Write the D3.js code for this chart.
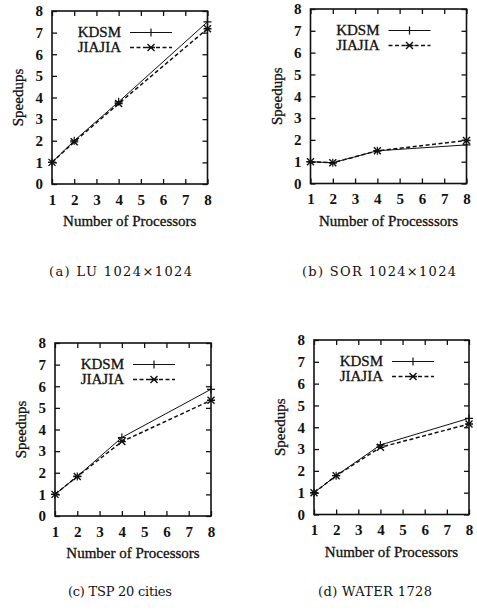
<!DOCTYPE html>
<html><head><meta charset="utf-8">
<script src="https://cdn.jsdelivr.net/npm/d3@7"></script>
<style>
html,body{margin:0;padding:0;background:#fff;}
svg{display:block;}
</style>
</head><body>
<svg id="c" width="477" height="615"></svg>
<script>
const processors = [1, 2, 4, 8];
const xTicks = [1, 2, 3, 4, 5, 6, 7, 8];
const yTicks = [0, 1, 2, 3, 4, 5, 6, 7, 8];
const seriesNames = ["KDSM", "JIAJIA"];
const luKDSM = [1, 2.0, 3.8, 7.5];
const luJIAJIA = [1, 1.95, 3.72, 7.18];
const sorKDSM = [1, 0.95, 1.5, 1.77];
const sorJIAJIA = [1, 0.95, 1.5, 1.97];
const tspKDSM = [1, 1.83, 3.63, 5.86];
const tspJIAJIA = [1, 1.83, 3.44, 5.35];
const waterKDSM = [1, 1.78, 3.19, 4.41];
const waterJIAJIA = [1, 1.78, 3.08, 4.15];
const captions = ["(a) LU 1024×1024", "(b) SOR 1024×1024", "(c) TSP 20 cities", "(d) WATER 1728"];
const xTitles = ["Number of Processors", "Number of Processsors", "Number of Processors", "Number of Processors"];
const yTitle = "Speedups";

const panels = [
  {box:[52, 207.5, 11, 184], kdsm: luKDSM, jiajia: luJIAJIA, cap:[120.5, 276, 143]},
  {box:[310.5, 466.5, 9, 183.5], kdsm: sorKDSM, jiajia: sorJIAJIA, cap:[379, 276, 154]},
  {box:[55, 211, 343, 516], kdsm: tspKDSM, jiajia: tspJIAJIA, cap:[120, 596, 104]},
  {box:[314, 469, 340, 514.5], kdsm: waterKDSM, jiajia: waterJIAJIA, cap:[375, 596, 114]}
];

const SERIF = '"Liberation Serif", "Times New Roman", serif';
const svg = d3.select("#c");
const txt = (sel) => sel.style("font-family", SERIF).style("font-size", "15px")
  .attr("fill", "#111").attr("stroke", "#111").attr("stroke-width", 0.3);

panels.forEach((p, i) => {
  const [L, R, T, B] = p.box;
  const x = d3.scaleLinear().domain([1, 8]).range([L, R]);
  const y = d3.scaleLinear().domain([0, 8]).range([B, T]);
  const g = svg.append("g");

  const axB = g.append("g").attr("transform", `translate(0,${B})`)
    .call(d3.axisBottom(x).tickValues(xTicks).tickFormat(d3.format("d")).tickSizeInner(-5).tickSizeOuter(0).tickPadding(10));
  const axT = g.append("g").attr("transform", `translate(0,${T})`)
    .call(d3.axisTop(x).tickValues(xTicks).tickFormat("").tickSizeInner(-5).tickSizeOuter(0));
  const axL = g.append("g").attr("transform", `translate(${L},0)`)
    .call(d3.axisLeft(y).tickValues(yTicks).tickFormat(d3.format("d")).tickSizeInner(-5).tickSizeOuter(0).tickPadding(9));
  const axR = g.append("g").attr("transform", `translate(${R},0)`)
    .call(d3.axisRight(y).tickValues(yTicks).tickFormat("").tickSizeInner(-5).tickSizeOuter(0));
  [axB, axT, axL, axR].forEach(a => {
    a.attr("font-family", null).attr("font-size", null);
    a.select(".domain").remove();
    a.selectAll("line").attr("stroke", "#111").attr("stroke-width", 1.3);
    a.selectAll("text").style("font-family", SERIF).style("font-size", "15px")
      .style("font-weight", "bold").attr("fill", "#111");
  });
  axB.selectAll("text").attr("dy", "0.71em");

  g.append("rect").attr("x", L).attr("y", T).attr("width", R - L).attr("height", B - T)
    .attr("fill", "none").attr("stroke", "#111").attr("stroke-width", 1.6);

  txt(g.append("text").attr("x", (L + R) / 2).attr("y", B + 42).attr("text-anchor", "middle")).text(xTitles[i]);
  txt(g.append("text").attr("transform", `translate(${L - 29},${(T + B) / 2}) rotate(-90)`)
    .attr("text-anchor", "middle")).text(yTitle);

  const line = d3.line().x((d, k) => x(processors[k])).y(d => y(d));
  g.append("path").datum(p.kdsm).attr("d", line).attr("fill", "none")
    .attr("stroke", "#111").attr("stroke-width", 1);
  g.append("path").datum(p.jiajia).attr("d", line).attr("fill", "none")
    .attr("stroke", "#111").attr("stroke-width", 1.5).attr("stroke-dasharray", "4,2.5");

  const plus = (sel, cx, cy) => {
    sel.append("path").attr("d", `M${cx - 4},${cy}H${cx + 4}M${cx},${cy - 4}V${cy + 4}`)
      .attr("stroke", "#111").attr("stroke-width", 1.2);
  };
  const cross = (sel, cx, cy) => {
    sel.append("path").attr("d", `M${cx - 3.5},${cy - 3.5}L${cx + 3.5},${cy + 3.5}M${cx - 3.5},${cy + 3.5}L${cx + 3.5},${cy - 3.5}M${cx - 4},${cy}H${cx + 4}`)
      .attr("stroke", "#111").attr("stroke-width", 1.4);
  };
  p.kdsm.forEach((v, k) => plus(g, x(processors[k]), y(v)));
  p.jiajia.forEach((v, k) => cross(g, x(processors[k]), y(v)));

  const lx = L + 69;
  const legendY = [T + 26, T + 41];
  seriesNames.forEach((n, k) => {
    txt(g.append("text").attr("x", lx).attr("y", legendY[k]).attr("text-anchor", "end")).text(n);
    const ly = legendY[k] - 4.5;
    g.append("path").attr("d", `M${L + 78},${ly}H${L + 120}`).attr("stroke", "#111")
      .attr("stroke-width", k === 0 ? 1 : 1.5).attr("stroke-dasharray", k === 0 ? null : "4,2.5");
    if (k === 0) plus(g, L + 99, ly); else cross(g, L + 99, ly);
  });

  svg.append("text").attr("x", p.cap[0]).attr("y", p.cap[1]).attr("text-anchor", "middle")
    .style("font-family", '"DejaVu Serif", serif').style("font-size", "13px").attr("fill", "#111")
    .attr("textLength", p.cap[2]).attr("lengthAdjust", "spacing").text(captions[i]);
});
</script>
</body></html>
